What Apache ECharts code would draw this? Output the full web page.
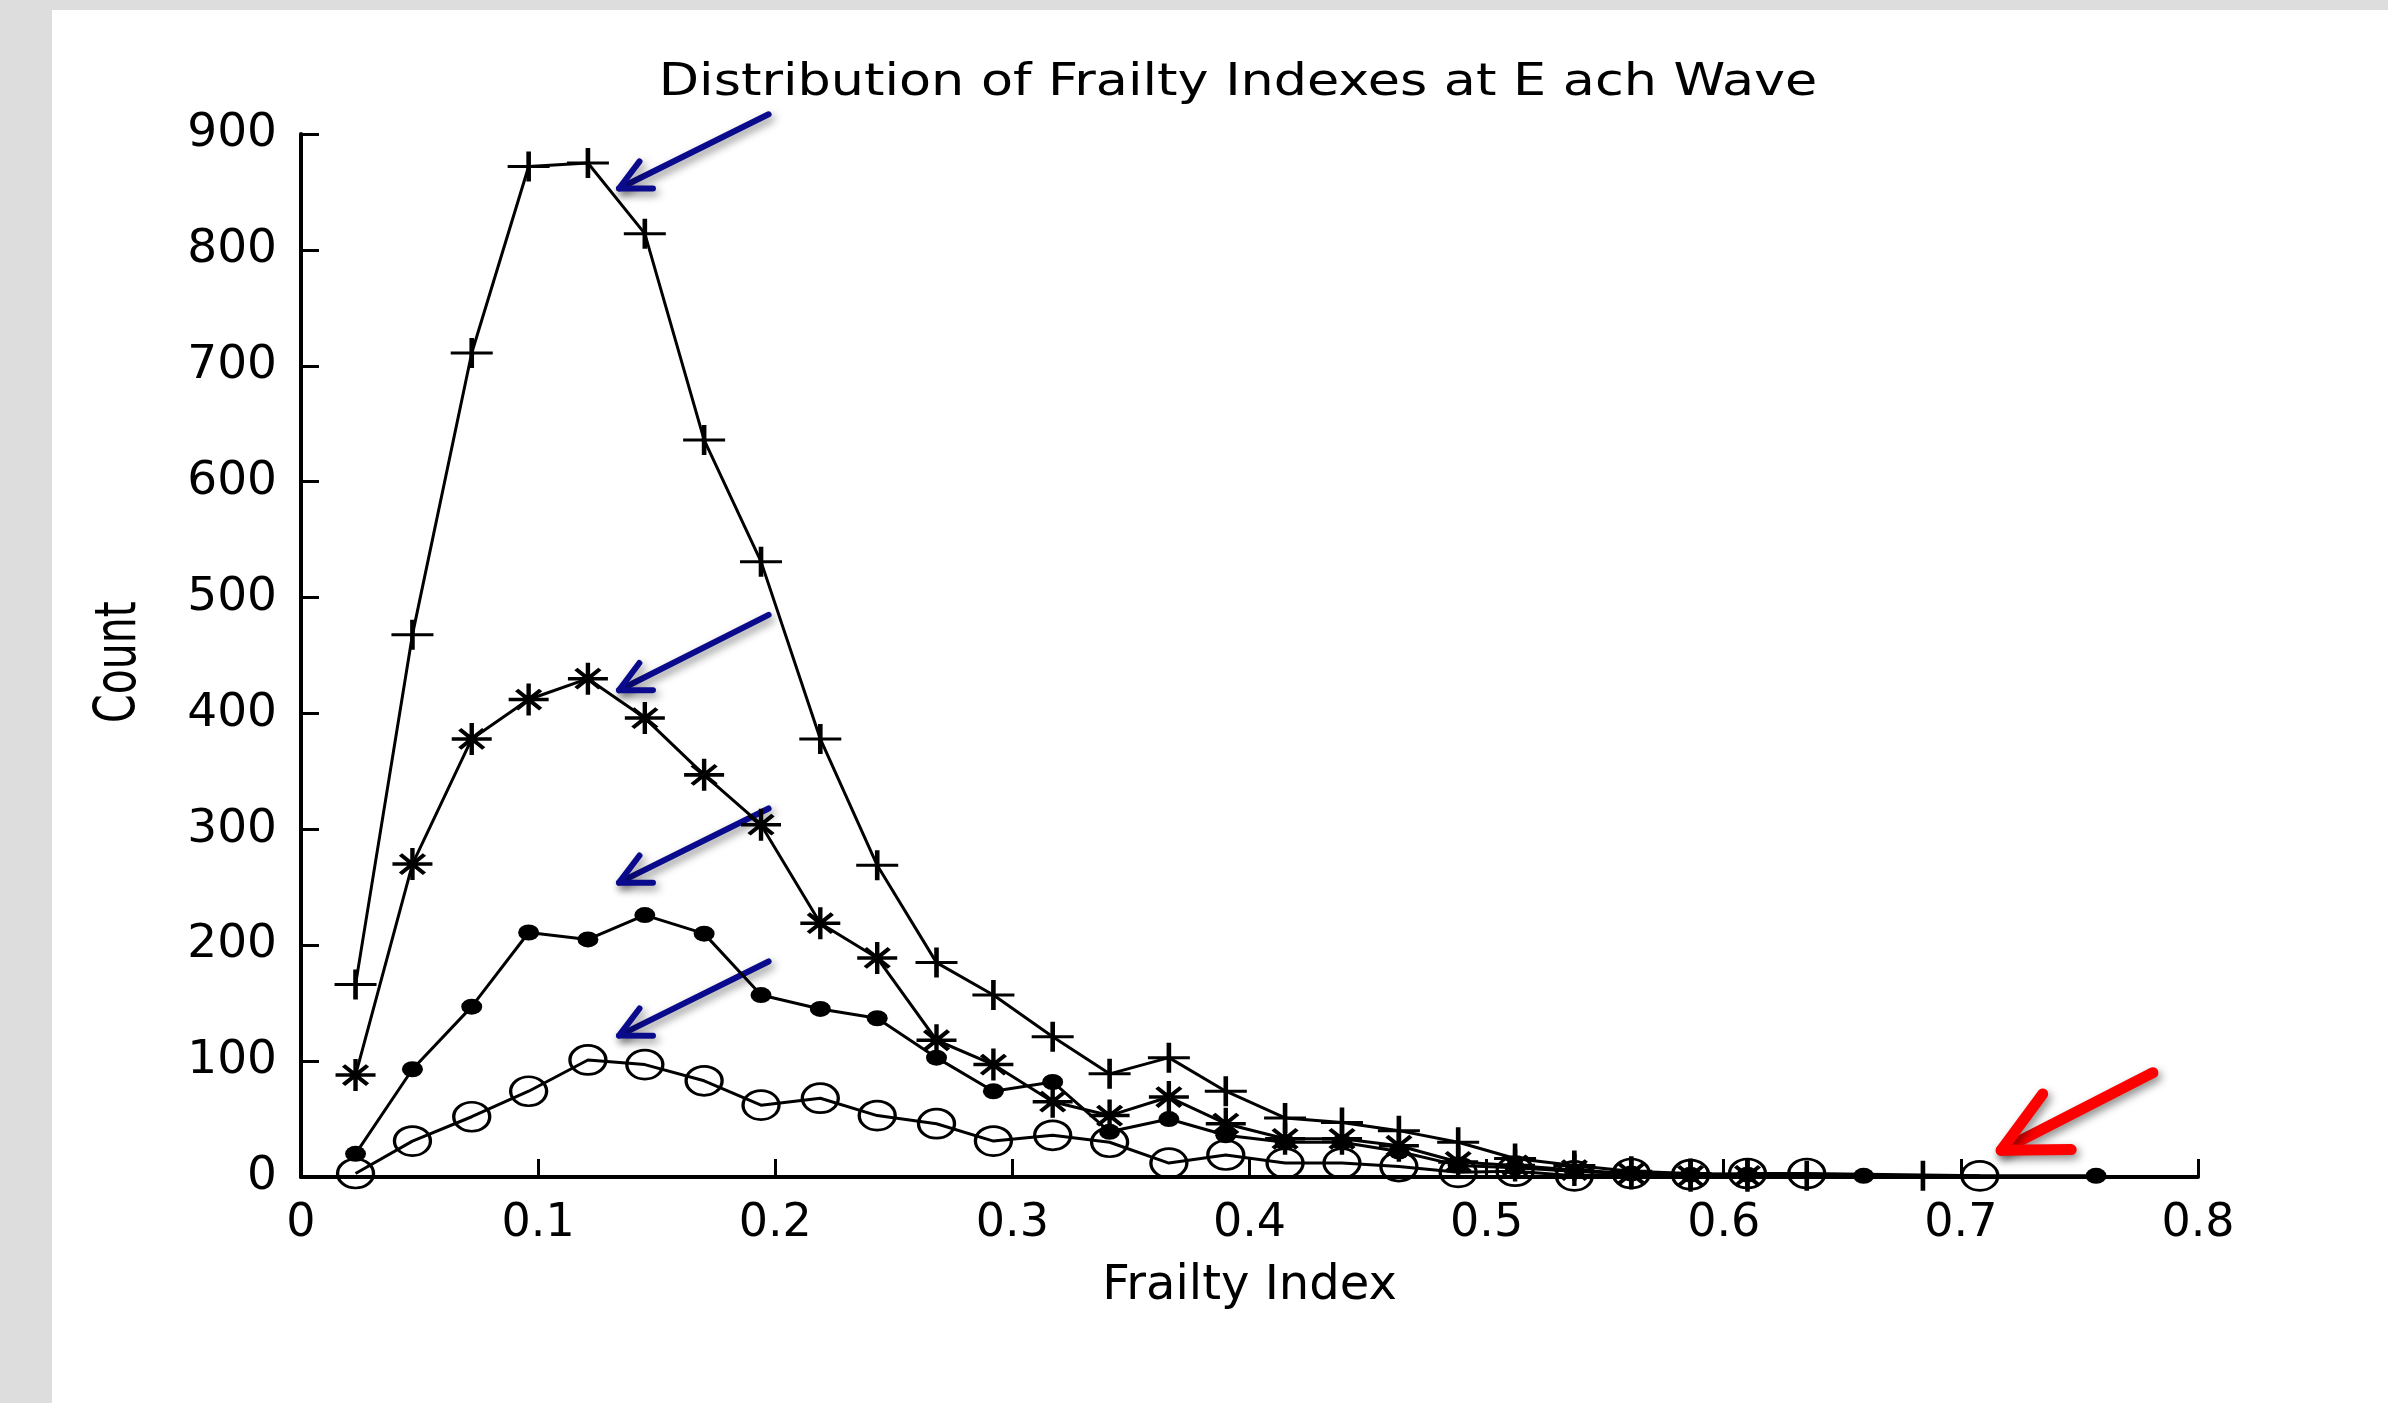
<!DOCTYPE html>
<html>
<head>
<meta charset="utf-8">
<script src="https://cdn.jsdelivr.net/npm/echarts/dist/echarts.min.js"></script>
<style>
  html, body { margin: 0; padding: 0; width: 2388px; height: 1403px; background: #dddddd; overflow: hidden; }
  #panel { position: absolute; left: 52px; top: 10px; right: 0; bottom: 0; background: #ffffff; }
  #chart { position: absolute; left: 0; top: 0; width: 2388px; height: 1403px; }
</style>
</head>
<body>
<div id="panel"></div>
<div id="chart"></div>
<script>
// Frailty index bin centres shared by all waves
const binCenters = [0.023, 0.047, 0.072, 0.096, 0.121, 0.145, 0.170, 0.194, 0.219, 0.243,
                    0.268, 0.292, 0.317, 0.341, 0.366, 0.390, 0.415, 0.439, 0.463, 0.488,
                    0.512, 0.537, 0.561, 0.586, 0.610, 0.635, 0.659, 0.684, 0.708, 0.733, 0.757];

// Counts per bin for each wave (null = empty bin, not plotted)
const wavePlus     = [166, 468, 711, 872, 875, 814, 636, 531, 378, 269, 185, 157, 121, 89, 103, 74, 51, 47, 40, 30, 16, 10, 5, 3, 2, 1, null, 1, null, null, null];
const waveStar     = [88, 270, 378, 412, 430, 396, 347, 304, 219, 189, 118, 97, 65, 53, 69, 46, 33, 33, 27, 13, 10, 6, 3, 1, 1, null, null, null, null, null, null];
const waveDot      = [20, 93, 147, 211, 205, 226, 210, 157, 145, 137, 103, 74, 82, 39, 50, 36, 30, 30, 22, 10, 8, 5, 3, 2, 2, null, 1, null, null, null, 1];
const waveCircle   = [3, 31, 52, 74, 101, 97, 83, 62, 68, 53, 46, 31, 36, 30, 12, 19, 12, 12, 9, 4, 5, 1, 3, 2, 3, 3, null, null, 1, null, null];

// Axis ticks
const xTicks = { min: 0, max: 0.8, step: 0.1 };
const yTicks = { min: 0, max: 900, step: 100 };

// Texts
const titleText = 'Distribution of Frailty Indexes at E ach Wave';
const xName = 'Frailty Index';
const yName = 'Count';

// Annotation arrows: [tail, tip] in data units (frailty index, count)
const blueArrows = [
  [[0.1972, 917], [0.1341, 853]],
  [[0.1972, 485], [0.1341, 420]],
  [[0.1972, 318], [0.1341, 254]],
  [[0.1972, 186], [0.1341, 122]]
];
const redArrows = [
  [[0.781, 90], [0.717, 23]]
];

const FONT = 'DejaVu Sans';

function pairs(counts) {
  const out = [];
  counts.forEach((c, i) => { if (c !== null) out.push([binCenters[i], c]); });
  return out;
}

// Marker shapes
const plusPath = 'path://M4.45,0H5.55V10H4.45ZM0,4.5H10V5.5H0Z';
const starPath = 'path://M4.45,0H5.55V10H4.45ZM0,4.45H10V5.55H0Z' +
                 'M1.6,2.4L2.4,1.6L8.4,7.6L7.6,8.4Z' +
                 'M7.6,1.6L8.4,2.4L2.4,8.4L1.6,7.6Z';

function lineSeries(name, counts, symbol, size, itemStyle) {
  return {
    name: name,
    type: 'line',
    data: pairs(counts),
    symbol: symbol,
    symbolSize: size,
    symbolKeepAspect: false,
    showAllSymbol: true,
    lineStyle: { color: '#000', width: 3 },
    itemStyle: itemStyle,
    emphasis: { disabled: true },
    animation: false,
    z: 3
  };
}

const chart = echarts.init(document.getElementById('chart'), null, { renderer: 'canvas' });

const option = {
  backgroundColor: 'transparent',
  animation: false,
  grid: { left: 301, right: 190, top: 134, bottom: 226, containLabel: false },
  xAxis: {
    type: 'value',
    min: xTicks.min, max: xTicks.max, interval: xTicks.step,
    name: xName,
    nameLocation: 'middle',
    nameGap: 86,
    nameTextStyle: { fontFamily: FONT, fontSize: 48, color: '#000' },
    axisLine: { show: true, onZero: false, lineStyle: { color: '#000', width: 4 } },
    axisTick: { show: true, inside: true, length: 18, lineStyle: { color: '#000', width: 3 } },
    axisLabel: { fontFamily: FONT, fontSize: 46, color: '#000', margin: 24 },
    splitLine: { show: false }
  },
  yAxis: {
    type: 'value',
    min: yTicks.min, max: yTicks.max, interval: yTicks.step,
    axisLine: { show: true, lineStyle: { color: '#000', width: 4 } },
    axisTick: { show: true, inside: true, length: 18, lineStyle: { color: '#000', width: 3 } },
    axisLabel: { fontFamily: FONT, fontSize: 47, color: '#000', margin: 24 },
    splitLine: { show: false }
  },
  series: [
    lineSeries('wave +', wavePlus, plusPath, [42, 30], { color: '#000' }),
    lineSeries('wave *', waveStar, starPath, [40, 32], { color: '#000' }),
    lineSeries('wave dot', waveDot, 'circle', [21, 16], { color: '#000' }),
    lineSeries('wave o', waveCircle, 'circle', [36, 29],
               { color: 'rgba(0,0,0,0)', borderColor: '#000', borderWidth: 3 })
  ]
};

chart.setOption(option);

function arrow(tail, tip, color, width, headLen) {
  const p0 = chart.convertToPixel({ gridIndex: 0 }, tail);
  const p1 = chart.convertToPixel({ gridIndex: 0 }, tip);
  const ang = Math.atan2(p0[1] - p1[1], p0[0] - p1[0]);
  const spread = 26.5 * Math.PI / 180;
  const a1 = [p1[0] + headLen * Math.cos(ang + spread), p1[1] + headLen * Math.sin(ang + spread)];
  const a2 = [p1[0] + headLen * Math.cos(ang - spread), p1[1] + headLen * Math.sin(ang - spread)];
  const style = {
    stroke: color, fill: null, lineWidth: width, lineCap: 'round', lineJoin: 'round',
    shadowBlur: 8, shadowColor: 'rgba(0,0,0,0.45)', shadowOffsetX: 3, shadowOffsetY: 4
  };
  return {
    type: 'group',
    z: 10,
    children: [
      { type: 'polyline', shape: { points: [p0, p1] }, style: style },
      { type: 'polyline', shape: { points: [a1, p1, a2] }, style: style }
    ]
  };
}

// Title and y-axis name: wide, stretched lettering
const graphics = [
  {
    type: 'text',
    x: 1238, y: 84,
    scaleX: 1.19,
    style: { text: titleText, fontFamily: FONT, fontSize: 44, fill: '#000',
             align: 'center', verticalAlign: 'middle', textAlign: 'center', textVerticalAlign: 'middle' }
  },
  {
    type: 'text',
    x: 120, y: 662,
    rotation: Math.PI / 2,
    scaleY: 1.4,
    style: { text: yName, fontFamily: FONT, fontSize: 41, fill: '#000',
             align: 'center', verticalAlign: 'middle', textAlign: 'center', textVerticalAlign: 'middle' }
  }
];
blueArrows.forEach(a => graphics.push(arrow(a[0], a[1], '#0a0a8c', 6, 34)));
redArrows.forEach(a => graphics.push(arrow(a[0], a[1], '#ff0000', 11, 70)));
chart.setOption({ graphic: graphics });
</script>
</body>
</html>
